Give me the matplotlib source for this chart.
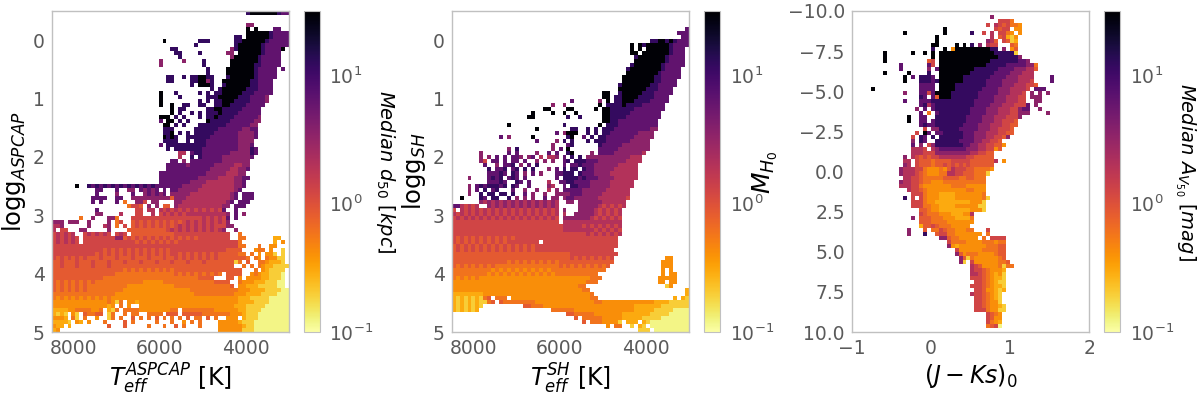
import numpy as np
import matplotlib
matplotlib.use('Agg')
import matplotlib.pyplot as plt
from matplotlib.colors import LogNorm

# median value for each colour level
LEVELS = {'0': 0.12, '1': 0.2, '2': 0.3, '3': 0.42, '4': 0.6, '5': 0.85,
          '6': 1.25, '7': 2.0, '8': 3.5, '9': 6.5, 'a': 12.0, 'b': 30.0}
NCOLS = 60
NROWS = 80

# row -> runs of bins, top row first. "s:xyz" is literal, "s-e:xy" repeats xy from s to e
aspcap_rows = {
    0: "49:a 50-56:b 57:a 58-59:9", 3: "49-50:8", 4: "49:b 51:b 56-57:9",
    5: "49-54:b 55:a 56-59:9", 6: "46-47:a 49-54:b 55:a 56-59:9",
    7: "28:b 37-39:a 46-47:a 48-53:b 54:a 55-59:9", 8: "36:a 46:a 47-52:b 53:a 54-59:9",
    9: "30-31:a 45:8 46:a 47-52:b 53:a 54-57:9 58:b", 10: "31-32:a 37:a 44-45:8 47-52:b 53:a 54-57:9",
    11: "32:a 45:8 46-51:b 52:a 53-57:9", 12: "27:8 33:8 38:a 45-51:b 52:a 53-57:9",
    13: "27:8 38:a 45-50:b 51-52:a 53-57:9", 14: "39:a 44-50:b 51:a 52-56:9 58:9",
    15: "39:a 44-50:b 51:a 52-56:9",
    16: "29-30:a 33:a 35-36:a 37-38:b 39-40:a 44:a 45-50:b 51:a 52-56:9",
    17: "29-30:a 35-36:a 37-38:b 39:8 40:a 43-49:b 50-51:a 52-55:9",
    18: "35:a 37-39:b 40:a 43:a 44-49:b 50-51:a 52-55:9", 19: "40:a 42:a 43-48:b 49-51:a 52-55:9",
    20: "27:b 31:a 37:a 39:a 41:a 42:a 43-47:b 48-50:a 51-55:9",
    21: "27:b 32:a 39:a 40-41:a 42-46:b 47-49:a 50-53:9 54:8",
    22: "27:b 37:a 39:a 41-42:a 43-45:b 46-49:a 50-53:9 54:8",
    23: "27:b 30:b 33-34:a 37-38:a 41-42:a 43-44:b 45-48:a 49-53:9",
    24: "30:b 32-33:a 39:a 40:a 41-42:b 43-47:a 48-52:9",
    25: "30:b 32:a 35:a 37:a 39:a 40-41:a 42:b 43-46:a 47-52:9",
    26: "27-29:b 31:a 33:a 37:a 39-40:a 41:b 42-45:a 46-51:9 52:8",
    27: "27:9 29-30:b 32:a 34:a 39:b 40-44:a 45-50:9 51-52:8",
    28: "28-29:b 31:a 33:a 37:a 38-43:a 44-49:9 50-51:8",
    29: "28-30:a 36:a 37-41:a 42-47:9 48-49:8 50-51:9",
    30: "28-29:a 30:b 32:a 34:a 36-40:a 41-46:9 47-50:8 51:9",
    31: "28:b 29:a 30:b 31:a 34-35:a 36-39:a 40-46:9 47-50:8 51:9",
    32: "28-31:a 34:a 36-38:a 39-46:9 47-50:8", 33: "27:9 29-31:a 32-33:a 34-38:a 39-46:9 47-49:8 50:9",
    34: "29:a 31-33:a 34-37:a 38-46:9 47-49:8 50:a 51:9",
    35: "32-33:7 35:9 36-37:a 38-44:9 45-49:8 50:a 51:9", 36: "32:7 35:a 37:a 38-42:9 43-49:8 50:9",
    37: "30-31:9 33:8 35-42:9 43-49:8", 38: "29-33:9 34:8 35-40:9 41-45:8 46-47:7 48-49:8",
    39: "29-39:9 40-44:8 45-46:7 47-48:8 49:9", 40: "27-38:9 39-43:8 44-46:7 47-48:8",
    41: "27-36:9 37-41:8 42-45:7 46-47:8 48-49:9", 42: "27-34:9 35-38:8 39-45:7 46-47:8 48:9",
    43: "6:b 9-26:a9 27-32:9 33-37:8 38-45:7 46-47:8 48:9",
    44: "11-12:9 16:9 19-20:8 22-26:98 28:9 30-31:9 32-36:8 37-45:7 46:8 47:9",
    45: "11:9 16:8 20:9 23-28:89 30-34:8 35-44:7 45:8 46:9 48-50:9",
    46: "10-13:9 16-17:9 20-23:8 24-29:8 30:5 31-33:8 34-44:7 45:8 46:9 48-50:9",
    47: "10:9 12:9 16:9 18:4 21-22:8 23:6 25-26:8 31-32:8 33-43:7 44:8 45:9 47-49:9",
    48: "19:4 20-21:6 22:5 24:8 26:8 28-29:5 31:8 32-42:7 43-44:8 46-48:9",
    49: "11:9 21-22:6 24-25:7 27-42:76 43:9 46:9", 50: "11-12:8 17:7 21-22:6 25:7 27-33:67 34-43:7 44:8 46:9 48:8",
    51: "7:4 10:8 14-15:8 16:4 20:6 21-36:6 37-43:67 44:9 46:9",
    52: "0:8 1-2:8 4-5:8 6:8 9:8 14:8 16:4 17:6 20-32:56 33-43:67 44:8",
    53: "0-1:7 2:8 9:8 13:7 14:8 16:4 18:6 20-30:56 31-40:67 41-43:6 44-45:8",
    54: "0:7 2-3:6 7-8:8 14:8 19-28:5 29-42:67 43:8 46:8",
    55: "0-5:67 8-14:67 16-18:67 20-30:5 31-44:6 47:4",
    56: "0-6:67 8-15:6 16-17:8 18-36:56 37-44:6 47-48:4 56-57:2",
    57: "0-6:67 8-20:6 21-32:56 33-46:6 47:4 56:2 58:3", 58: "0-46:6 47-48:4 52:4 55-56:3",
    59: "0-11:6 12-30:65 31-43:6 44-47:5 51:3 52-53:4 55:3 58:1",
    60: "0-9:6 10-30:65 31-42:65 43-46:5 47-48:4 50:4 52:3 54-55:3 56:1 58:1",
    61: "0-9:65 10-30:5565 31-41:65 42-48:5 49:4 51:4 52:3 54:4 55-56:3 57-58:1",
    62: "0-41:5565 42-45:5 46:1 47:4 49:5 52-53:4 54:3 55-57:2 58:1",
    63: "0-15:5565 16-45:5 48:4 50:4 52:4 53:3 54-55:2 56-59:1",
    64: "0-16:5 17-30:54 31-46:5 47:5 51:4 53:3 54:2 55-58:1",
    65: "0-15:5 16-30:4 31-42:54 44-46:5 47:5 50:3 51:4 52:3 53-54:2 55-57:1 58:0",
    66: "0-12:5 13-36:4 37-40:5 44-45:5 47:3 49-51:3 52:3 53-54:2 55-57:1 58:0",
    67: "0-10:54 11-22:4 23-27:3 28-40:4 41-44:5 47:4 48-50:3 51-53:2 54-56:1 57-58:0",
    68: "0-8:54 9-18:4 19-30:3 31-44:4 45:5 47-48:3 49-51:2 52-54:1 55-56:1 57-58:0",
    69: "0-8:54 9-17:4 18-34:3 35-46:4 47-49:3 50-53:2 54-57:1 58-59:0",
    70: "0-15:4 16-35:3 36-45:4 46-48:3 49-52:2 53-56:1 57-59:0",
    71: "0-14:43 15-46:3 47-49:2 50-54:1 55-59:0",
    72: "0-13:3 14:4 15:3 16:1 17:4 19-20:3 21:2 22-46:3 47-50:2 51-54:1 55-59:0",
    73: "0-13:3 14:2 15:3 17:4 19:3 22-45:3 46-48:2 49-53:1 54-59:0",
    74: "0-3:2 4-5:3 6-9:4 10-11:3 12:4 14:2 15:1 16:4 18:4 19-21:4 22-29:3 30-31:4 33-40:4 41-46:3 47-48:2 49-52:1 53-59:0",
    75: "0-3:21 5:3 6:1 8:5 9-10:4 11-12:5 14:1 15:4 18:4 20-21:4 24-27:4 29-31:5 33-37:5 38-44:4 45-47:3 48:2 49-51:1 52-59:0",
    76: "0-2:3 3:2 5:4 6:1 8:4 11:3 14:1 15:4 17:4 20:5 22:4 24:4 26:5 28:4 30:4 32:4 34:5 36-37:4 39:5 41:4 44-46:3 48:2 49-51:1 52-59:0",
    77: "0-3:2 4:1 6:3 7:2 9:3 13:4 18:5 20:4 26:4 30:4 33:3 35:4 37:4 42-46:3 47:2 48-50:1 51-59:0",
    78: "0:3 1-2:2 4:2 14:5 18:5 24:4 28:4 31:5 33:4 37:4 42-47:3 48:2 49-50:1 51-59:0",
    79: "0:2 1:3 42-47:3 48-50:1 51-59:0",
}

sh_rows = {
    4: "59:9", 5: "57-59:9", 6: "58-59:9", 7: "50-51:a 52-53:b 54:a 55:b 56:a 57-59:9",
    8: "45:b 47:b 48:a 49-54:b 55:a 56-59:9", 9: "45:b 47:b 49-54:b 55:a 56-58:9",
    10: "45-46:b 48-54:b 55:a 56-58:9", 11: "46:a 47-53:b 54:a 55-58:9", 12: "46-53:b 54:a 55-58:9",
    13: "45:a 46-52:b 53:a 54-58:9", 14: "44:a 45-52:b 53:a 54-57:9", 15: "44-51:b 52:a 53-57:9",
    16: "43-50:b 51-52:a 53-57:9", 17: "43-50:b 51-52:a 53-56:9", 18: "42:a 43-49:b 50-51:a 52-56:9",
    19: "42-48:b 49-51:a 52-55:9", 20: "38-39:b 42:a 43-47:b 48-50:a 51-55:9",
    21: "38-39:b 41-42:a 43-46:b 47-50:a 51-54:9", 22: "30:9 37:8 39:b 41-42:a 43-45:b 46-49:a 50-54:9",
    23: "25:8 28:8 37:b 39:a 40-42:a 43:b 44-47:a 48-53:9", 24: "23-24:b 29-30:b 36:b 38-39:b 40-45:a 46-53:9",
    25: "20:b 25:b 28:b 31:b 38-39:b 40-44:a 45-52:9", 26: "19-20:b 29:a 32:a 38-39:b 40-43:a 44-52:9",
    27: "38-39:b 40-41:a 42-51:9", 28: "14:b 28:a 37:b 39-41:a 42-51:9",
    29: "21:b 30-31:a 34:a 36:a 38-40:a 41-49:9 50-51:8", 30: "26:9 28:8 29-31:b 34:a 36:a 38-39:a 40-46:9 47-50:8",
    31: "12:9 14:8 20:b 29:a 30:b 33:9 35:a 37-38:a 39-45:9 46-50:8",
    32: "21:9 26:8 28:a 30:a 34:a 36:a 37-38:a 39-44:9 45-49:8", 33: "25:8 29:9 30:a 37:a 38-42:9 43-49:8",
    34: "14:8 16:a 25:8 27:9 29:b 37-41:9 42-49:8",
    35: "7:8 14:9 16:9 21:8 24:9 26:9 29:a 30:b 35:8 37-40:9 41-47:8 48:7",
    36: "7:8 9:8 11:9 13:9 15-16:9 17:8 19:8 20:9 22:7 24-25:7 26:8 28:9 30:a 32:a 34-44:8 45-47:7",
    37: "7:8 8:6 10-11:9 13:9 15-16:9 18:9 21:8 23:8 25:8 28:9 29:a 31-33:a 34-36:9 37-43:8 44-47:7",
    38: "8:9 11:8 13-14:9 15:a 17:8 19:9 21:a 28:9 30-31:9 32:a 33-35:9 36-41:8 42-46:7",
    39: "9:a 11-12:9 13:a 15:9 16:a 18:a 20:a 24:8 26:9 28:a 30-31:a 33:a 34-35:9 36-40:8 41-46:7",
    40: "9-11:9 12:a 13:9 15:a 16:9 18:8 20:9 22:8 26-27:9 28-30:a 32:a 33-35:9 36-39:8 40-46:7",
    41: "4:8 9-12:9a 14:9 15:a 16:9 18:9 26:9 28-31:a 32:9 33:a 34-36:9 37-40:8 41-46:7",
    42: "9-11:9 12:a 13:9 16:a 17:9 19:9 24:7 27-28:9 29-30:a 31-34:9 35-39:8 40-45:7",
    43: "4:8 6:9 7:a 8:9 9-11:a 12:9 13:a 15:a 16:9 19:9 24:8 25:7 28:9 30-31:a 32-34:9 35-39:8 40-45:7",
    44: "4:8 6:9 8:a 10:9 11:a 15:9 18:8 21:8 24:7 26:8 28-32:9 33-38:8 39-44:7",
    45: "4:8 7:a 9-10:a 12-13:a 15:a 18:9 20:8 23:8 26-29:8 30-32:9 33-37:8 38-44:7",
    46: "2:b 7:a 8:9 10-11:a 14:a 16:8 18:8 20:8 23:9 25-26:8 28:8 29-30:9 31-36:8 37-43:7 44:6",
    47: "7-26:87 29-30:8 32-37:8 38-43:7", 48: "0-1:9 2-6:76 9-26:87 32-36:8 37-43:76",
    49: "0:6 2-26:76 28:8 32-35:8 36-42:76", 50: "0:7 1-26:67 28:7 31-35:8 36-42:76",
    51: "0-26:67 28-30:8 31-34:8 35-42:76", 52: "0-26:6 28-30:7 31-42:7", 53: "0-27:6 28-31:7 32-42:76",
    54: "0-27:6 28-34:7 35-42:76", 55: "0-32:6 33-42:67", 56: "0-16:65 17-41:6",
    57: "0-14:65 15-21:6 23-41:6", 58: "0-21:56 22-41:6", 59: "0-20:56 21-40:6",
    60: "0-29:5 30-41:6", 61: "0-28:5 29-40:56 54-55:3", 62: "0-12:5 13-27:54 28-40:5 53-55:3",
    63: "0-10:54 11-26:4 27-39:54 53-55:3", 64: "0-8:4 9-24:43 25-38:4 53:3 55:3",
    65: "0-7:4 8-26:43 27-36:4 53:3 55-56:3", 66: "0-6:43 7-34:3 35-37:4 52-56:3",
    67: "0-33:3 34-36:4 52-53:3 55-56:3", 68: "0-31:3 32-33:4 54:1 55:3",
    69: "0-1:3 2-32:3 33-34:4 59:2", 70: "0-7:2 8-34:3 35:4 59:2",
    71: "0-7:21 8:4 9:5 11-13:4 15-34:3 35-36:4 56:2 58:2 59:1",
    72: "0-7:21 8:1 9:4 10:5 12:5 13-20:4 21-35:3 36-37:4 38-50:3 51-54:2 55-59:1",
    73: "0-7:21 18-19:5 20-22:4 23:3 24-35:3 36-45:3 46-52:2 53-59:1",
    74: "0-6:21 25-30:4 31-45:3 46-50:2 51-55:1 56-59:0",
    75: "29-30:5 31-35:4 36-42:3 43-49:2 50-54:1 55-59:0",
    76: "31:5 33-37:4 38-42:3 43-47:2 48-52:1 53-59:0",
    77: "33:5 35-37:4 38-41:3 42:1 44-46:2 48:2 49:1 50-59:0",
    78: "39:3 41-42:4 45:1 47:2 48:1 50-59:0", 79: "47-49:1 51-59:0",
}

kmag_rows = {
    1: "35:8", 2: "37-39:6 40:4", 3: "34:6 36:7 37:6 38:5 39:6 40-41:4 42:3",
    4: "23:b 36:6 37:5 38-39:6 41:3 42:3", 5: "13:b 23:b 30:a 33:6 35:7 37-38:6 39:4 40:3 42:3",
    6: "21:b 35:7 37:5 38:6 39:2 40:1 41:3", 7: "21:b 34:8 35:7 36:5 38:6 39:5 40:1 41:2",
    8: "20-21:b 26:b 28:b 30:a 32:8 34:7 35-36:6 40:5 41:4", 9: "20:a 23:b 25:3 26-34:b 35-36:a 38:8 40:3 41:5",
    10: "8:b 15:b 18:b 20:b 22:b 23-35:b 36-40:a 41:1", 11: "8:b 20:b 22-36:b 37-41:a 42:8",
    12: "8:b 19:5 20:6 22-34:b 35-41:a 42-43:9 44:8", 13: "12:9 19:9 20:6 22-33:b 34-38:a 39-43:9 44-45:8 46:4",
    14: "12:9 19:8 21:9 22-30:b 31-36:a 37-40:9 41-43:8 44-45:7 46:5", 15: "8:b 14:b 19:a 22-29:b 30-35:a 36-39:9 40-42:8 43-45:7",
    16: "13:b 15:9 17-19:a 20:9 22-27:b 28-34:a 35-38:9 39-41:8 42-45:7 50:9",
    17: "13:b 17-19:a 20:9 21:a 22-27:b 28-33:a 34-37:9 38-41:8 42-44:7 45:6 50:9",
    18: "17-20:9 22-25:b 26-33:a 34-37:9 38-40:8 41-43:7 44-45:6 46:5",
    19: "5:b 17-20:9 22-25:b 26-32:a 33-36:9 37-39:8 40-43:7 44:6 46-48:9",
    20: "13:8 17-18:9 19:6 20:9 21-24:b 25-31:a 32-36:9 37-39:8 40-42:7 43:6 45:8 47:8 49:8",
    21: "17:a 18:9 20:9 21:5 22-24:b 25-31:a 32-35:9 36-38:8 39-41:7 42-43:6 45-47:8",
    22: "13:9 17-19:9 20-30:a 31-35:9 36-38:8 39-41:7 42-43:6 46-47:8",
    23: "17:9 18:a 19:7 20:9 21-30:a 31-34:9 35-37:8 38-40:7 41-43:6 44:9 46:8",
    24: "16:8 18:9 20:9 21-29:a 30-33:9 34-36:8 37-39:7 40-41:6 42:8 43-44:9 47:8",
    25: "17:9 19:4 21:9 22-29:a 30-33:9 34-36:8 37-39:7 40-41:6 42-44:8 49:8",
    26: "14:b 17-18:9 21-28:a 29-32:9 33-35:8 36-38:7 39-41:6 42:8",
    27: "14:b 17-18:9 20:9 21-28:a 29-32:9 33-35:8 36-37:7 38-40:6 41:5",
    28: "17:9 18:a 19-20:9 21-27:a 28-31:9 32-34:8 35-37:7 38-39:6 40-41:5",
    29: "18:6 20-21:8 22-26:a 27-31:9 32-34:8 35-36:7 37-39:6 40:5",
    30: "16:6 18:b 19:9 21-22:9 23-27:a 28-30:9 31-33:8 34-36:7 37-38:6 39-40:5",
    31: "15:6 17:a 18:9 20:a 22-27:a 28-30:9 31-33:8 34-35:7 36-37:6 38:5 39:8",
    32: "15:8 17:a 18:9 21-26:a 27-30:9 31-32:8 33-34:7 35-36:6 37:5",
    33: "15:9 17:8 19:6 20:8 21-27:a 28-29:9 30-31:8 32-33:7 34-35:6 36-37:5 38:3",
    34: "15-16:7 17-18:76 20:7 21:8 22-28:9 29-31:8 32-33:7 34-35:6 36:3 37:5",
    35: "15-17:7 18-20:6 21-29:8 30-31:7 32-33:6 34-35:5", 36: "13:8 15:7 16-20:65 21:6 22-28:7 29-30:6 31-35:5",
    37: "13-14:7 16:6 17-18:5 19-21:54 22-24:5 25-29:6 30-35:5 36:7 38:3",
    38: "13:8 14:7 16:6 17-19:5 20:4 21:5 22-29:56 30-35:5",
    39: "12:8 13-15:7 16-17:6 18:4 19-21:3 22:4 23:3 24:5 25:7 26-28:6 29-30:5 31-34:4 35:3",
    40: "12:8 13-15:7 16:6 17:5 18:4 19-21:3 22-23:4 24-25:7 26-27:6 28-30:5 31-33:4 34:1",
    41: "13-14:7 15-16:6 17:5 18-22:4 23-26:5 27-28:4 29-30:5 31-33:4",
    42: "12:8 13-14:7 15-16:6 17:5 18-19:4 20-22:3 23-33:4", 43: "12-14:7 15-16:6 17:4 18-24:3 25-28:4 29-33:3",
    44: "14:7 15-16:6 17:5 18:4 19-28:3 29-30:4 31-33:3", 45: "15-17:6 18:4 19-21:3 22-25:2 26-32:3 33:4",
    46: "13:a 15:6 17:6 18:4 19-21:3 22-25:2 26-32:3 33:4 34:1", 47: "15-17:6 18:4 19-20:3 21-29:2 30-32:3 33:1",
    48: "15-17:6 18-19:4 20-21:3 22-25:2 26-31:3 32-33:1", 49: "17:5 18:5 19:4 20-21:3 22-29:2 30-32:3 33:1",
    50: "17:6 18:5 19-21:4 22-24:3 25-27:2 28-29:3 30:7", 51: "15:8 17-19:5 20-22:4 23-25:3 26-29:2 30:4",
    52: "17:5 18-19:5 20-23:4 24-27:3 28-30:3", 53: "17:2 18-19:5 20:6 21:5 22-24:4 25-29:3",
    54: "14:8 18:5 20-21:4 22:6 23:5 24-25:4 26-28:3 29-30:4 34:6",
    55: "14:8 18:a 21:5 22-23:6 24-25:4 26-32:3 34:4", 56: "22-23:8 24:5 25-26:4 27-31:3 33:4 35-36:6 37-38:6",
    57: "24:6 25:4 26-28:4 29-32:3 33-35:4 36:3 37-38:4", 58: "24:8 25:3 26:2 27-33:3 34-36:4 37-38:5",
    59: "26:6 27-32:3 33-36:4 37-38:5", 60: "26:8 27:5 28:3 29-31:4 32-35:3 36:4 37-38:5",
    61: "27:8 28:5 29:1 30:4 31-36:3 37:4 38:5", 62: "27:8 28:1 30:6 31-36:3 37-38:4 39:5",
    63: "30:7 31:6 32:5 33-36:3 37:4 38:1 39-40:4", 64: "30:7 31-32:6 33:5 34:4 35-37:3 38:2",
    65: "30-31:7 32:6 33:5 34:4 35:3 36:2 37:3 38:1", 66: "30-32:6 33:5 34:4 35:3 36-37:2 38:1",
    67: "31-32:6 33:5 34:4 35:3 36:2 37-38:1", 68: "30-32:6 33:5 34:4 35:3 36-37:2 38:1",
    69: "31-32:6 33:5 34-35:3 36:2 37:1 38:2", 70: "30:7 31-32:6 33:5 34:4 35:3 36:2 37:1",
    71: "31-32:6 33:5 34:4 35:3 36:2 37:1", 72: "31-32:6 33:5 34:4 35-36:3 37:1",
    73: "31-32:6 33:5 34:4 35-36:3 37:2 38:1", 74: "31-33:6 34:4 35-36:3 37-38:1",
    75: "34:6 35:5 36:4 37:3", 76: "34:6 35:5 36-37:3", 77: "34:6 35:4 36:3 37:2", 78: "34:4 35:5 36:6 37:0",
}

temp_xticks = [8000, 6000, 4000]
temp_labels = ['8000', '6000', '4000']
logg_ticks = [0, 1, 2, 3, 4, 5]
logg_labels = ['0', '1', '2', '3', '4', '5']
color_ticks = [-1, 0, 1, 2]
color_labels = ['\u22121', '0', '1', '2']
mag_ticks = [-10, -7.5, -5, -2.5, 0, 2.5, 5, 7.5, 10]
mag_labels = ['\u221210.0', '\u22127.5', '\u22125.0', '\u22122.5', '0.0', '2.5', '5.0', '7.5', '10.0']

W, H = 1200.0, 394.0


def rows_to_grid(rows):
    grid = np.full((NROWS, NCOLS), np.nan)
    for r, row in rows.items():
        for run in row.split():
            where, levels = run.split(':')
            if '-' in where:
                s, e = [int(v) for v in where.split('-')]
                for c in range(s, e + 1):
                    grid[r, c] = LEVELS[levels[(c - s) % len(levels)]]
            else:
                for i, ch in enumerate(levels):
                    grid[r, int(where) + i] = LEVELS[ch]
    return grid


def draw_panel(left, grid, xlim, ylim, xticks, yticks, xlabels, ylabels, xlabel, ylabel, ysize, cbar_label, cbar_left):
    ax = fig.add_axes([left / W, 1 - 332 / H, 237.5 / W, 321 / H])
    xe = np.linspace(xlim[0], xlim[1], NCOLS + 1)
    ye = np.linspace(ylim[1], ylim[0], NROWS + 1)
    mesh = ax.pcolormesh(xe, ye, np.ma.masked_invalid(grid), cmap='inferno_r',
                         norm=LogNorm(vmin=0.1, vmax=31.6))
    ax.set_xlim(xlim)
    ax.set_ylim(ylim)
    ax.set_xticks(xticks)
    ax.set_xticklabels(xlabels)
    ax.set_yticks(yticks)
    ax.set_yticklabels(ylabels)
    ax.tick_params(length=0, labelsize=13.5, labelcolor='#5a5a5a', pad=5)
    ax.set_xlabel(xlabel, fontsize=17, labelpad=3)
    ax.set_ylabel(ylabel, fontsize=ysize)
    ax.yaxis.set_label_coords(-0.1, 0.5)
    for s in ax.spines.values():
        s.set_color('#c0c0c0')
        s.set_linewidth(1)

    cax = fig.add_axes([cbar_left / W, 1 - 332 / H, 16 / W, 321 / H])
    cb = fig.colorbar(mesh, cax=cax)
    cb.set_ticks([0.1, 1, 10])
    cb.ax.minorticks_off()
    cb.ax.tick_params(length=0, labelsize=13.5, labelcolor='#5a5a5a', pad=7)
    cb.outline.set_edgecolor('#c0c0c0')
    # label sits by hand where the reference has it
    fig.text(cbar_label[1] / W, 1 - 172 / H, cbar_label[0], fontsize=cbar_label[2],
             rotation=cbar_label[3], ha='center', va='center')


plt.rcParams['mathtext.default'] = 'it'
fig = plt.figure(figsize=(12, 3.94), dpi=100)

draw_panel(51.7, rows_to_grid(aspcap_rows), (8500, 3000), (5, -0.5), temp_xticks, logg_ticks,
           temp_labels, logg_labels, r'$T_{eff}^{ASPCAP}$ [K]', r'$\mathrm{logg}_{ASPCAP}$', 17.5,
           (r'$Median\ d_{50}\ [kpc]$', 385, 14, 270), 303.5)
draw_panel(451.7, rows_to_grid(sh_rows), (8500, 3000), (5, -0.5), temp_xticks, logg_ticks,
           temp_labels, logg_labels, r'$T_{eff}^{SH}$ [K]', r'$\mathrm{logg}_{SH}$', 17.5,
           (r'$M_{H_0}$', 765, 18, 90), 704)
draw_panel(851.7, rows_to_grid(kmag_rows), (-1, 2), (10, -10), color_ticks, mag_ticks,
           color_labels, mag_labels, r'$(J-Ks)_0$', '', 17,
           (r'$Median\ A_{V_{50}}\ [mag]$', 1185, 14, 270), 1104)

fig.savefig('out.png', dpi=100)
